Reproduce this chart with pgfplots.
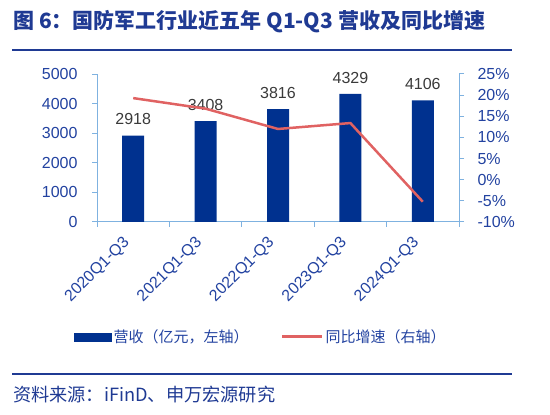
\documentclass[border=0pt]{standalone}
\usepackage{fontspec}
\setmainfont{Liberation Sans}
\newfontfamily\cjk{Noto Sans CJK SC}
\usepackage{pgfplots}
\pgfplotsset{compat=1.18}

\definecolor{navy}{HTML}{00318F}
\definecolor{titleblue}{HTML}{1F3A93}
\definecolor{tickblue}{HTML}{2242A0}
\definecolor{axisblue}{HTML}{7FB2E0}
\definecolor{linered}{HTML}{E06262}
\definecolor{labelgray}{HTML}{3A3A3A}

\begin{document}
\begin{tikzpicture}[x=1pt,y=1pt]
\path[use as bounding box] (0,0) rectangle (550,415);
% title and rules
\node[anchor=west, inner sep=0, text=titleblue,
      font=\cjk\bfseries\fontsize{21}{21}\selectfont] at (13,393) {图 6：国防军工行业近五年 Q1-Q3 营收及同比增速};
\draw[titleblue, line width=2pt] (12,365) -- (512,365);
\draw[titleblue, line width=1.5pt] (12,41) -- (512,41);
\node[anchor=west, inner sep=0, text=titleblue,
      font=\cjk\fontsize{18.2}{18.2}\selectfont] at (13,20) {资料来源：iFinD、申万宏源研究};

% left axis: revenue bars
\begin{axis}[
    at={(97pt,193pt)}, anchor=south west,
    scale only axis, width=362pt, height=148pt,
    xmin=-0.5, xmax=4.5, ymin=0, ymax=5000,
    axis x line*=bottom, axis y line*=left,
    axis line style={-, axisblue, line width=1pt},
    tick align=outside,
    xtick={0,...,4},
    xticklabels={2020Q1-Q3,2021Q1-Q3,2022Q1-Q3,2023Q1-Q3,2024Q1-Q3},
    major x tick style={draw=none},
    minor xtick={-0.5,0.5,...,4.5},
    minor x tick style={axisblue, line width=1pt},
    minor tick length=5pt,
    ytick={0,1000,...,5000},
    y tick style={axisblue, line width=1pt},
    major tick length=5pt,
    /pgf/number format/assume math mode=true,
    /pgf/number format/set thousands separator={},
    yticklabel style={font=\fontsize{16}{16}\selectfont, text=tickblue, xshift=-11pt},
    xticklabel style={font=\fontsize{16}{16}\selectfont, text=tickblue,
                      xshift=-6pt, yshift=-13pt, rotate=45, anchor=east, inner sep=0pt},
    ybar, bar width=22pt,
    nodes near coords,
    every node near coord/.append style={font=\fontsize{16}{16}\selectfont, text=labelgray, yshift=7pt},
]
\addplot[fill=navy, draw=none] coordinates {
    (0,2918) (1,3408) (2,3816) (3,4329) (4,4106)
};
\end{axis}

% right axis: yoy growth
\begin{axis}[
    at={(97pt,193pt)}, anchor=south west,
    scale only axis, width=362pt, height=148pt,
    xmin=-0.5, xmax=4.5, ymin=-10, ymax=25,
    axis x line=none, axis y line*=right,
    axis line style={-, axisblue, line width=1pt},
    tick align=outside,
    ytick={-10,-5,...,25},
    y tick style={axisblue, line width=1pt},
    major tick length=5pt,
    /pgf/number format/assume math mode=true,
    yticklabel={\pgfmathprintnumber{\tick}\%},
    yticklabel style={font=\fontsize{16}{16}\selectfont, text=tickblue, xshift=10pt},
    legend columns=2,
    legend style={draw=none, fill=none, at={(0.453,-0.777)}, anchor=center,
                  font=\cjk\fontsize{15}{15}\selectfont, text=tickblue,
                  /tikz/every even column/.append style={column sep=30pt}},
]
\addlegendimage{legend image code/.code={\fill[navy] (0pt,-4pt) rectangle (37pt,4pt);}}
\addlegendentry{营收（亿元，左轴）}
\addplot[linered, line width=2.5pt, mark=none,
         legend image code/.code={\draw[linered, line width=3pt] (0pt,0pt) -- (40pt,0pt);}]
    coordinates {(0,19.3) (1,16.8) (2,12.0) (3,13.4) (4,-5.2)};
\addlegendentry{同比增速（右轴）}
\end{axis}
\end{tikzpicture}
\end{document}
